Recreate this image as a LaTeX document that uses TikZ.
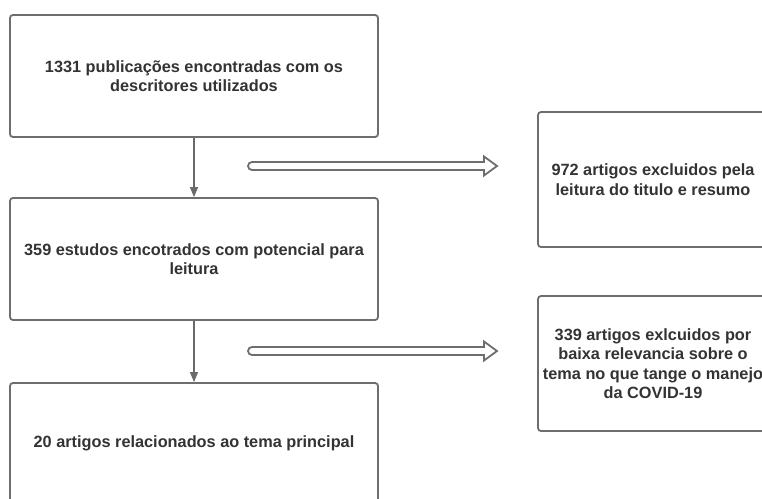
\documentclass[tikz,border=0pt]{standalone}
\usepackage{fontspec}
\setmainfont{Liberation Sans}
\usetikzlibrary{arrows.meta,positioning}
\definecolor{boxline}{HTML}{6E6E6E}
\definecolor{txt}{HTML}{333333}
\definecolor{arr}{HTML}{6A6A6A}
\begin{document}
\begin{tikzpicture}[x=1pt,y=-1pt,
  stepbox/.style={draw=boxline, line width=1.8pt, rounded corners=3pt, fill=white,
    minimum width=368pt, minimum height=122pt, align=center, text=txt,
    font=\fontsize{16.3pt}{19.5pt}\selectfont\bfseries, inner sep=0pt},
  sidebox/.style={stepbox, minimum width=230pt, minimum height=135pt},
  flow/.style={draw=arr, line width=1.2pt, -{Triangle[width=8pt,length=10pt]}},
  hollow/.style={draw=boxline, line width=1.8pt, line join=miter, fill=white}
]
\useasboundingbox (0,0) rectangle (762,498);
\clip (0,0) rectangle (762,498);
\fill[white] (0,0) rectangle (762,498);

\node[stepbox] (b1) at (194,76) {1331 publicações encontradas com os\\descritores utilizados};
\node[stepbox] (b2) at (194,259) {359 estudos encotrados com potencial para\\leitura};
\node[stepbox, minimum height=120pt] (b3) at (194,443) {20 artigos relacionados ao tema principal};

\node[sidebox] (e1) at (653,179.5) {972 artigos excluidos pela\\leitura do titulo e resumo};
\node[sidebox] (e2) at (653,363.5) {339 artigos exlcuidos por\\baixa relevancia sobre o\\tema no que tange o manejo\\da COVID-19};

\draw[flow] (b1.south) -- (b2.north);
\draw[flow] (b2.south) -- (b3.north);

\coordinate (h1) at (248,166);
\coordinate (h2) at (248,351);
\foreach \c in {h1,h2}{
  \begin{scope}[shift={(\c)}]
    \draw[hollow] (4,4) -- (236,4) -- (236,9.5) -- (249,0) -- (236,-9.5) -- (236,-4) -- (4,-4)
      arc[start angle=90, end angle=270, radius=4pt] -- cycle;
  \end{scope}
}
\end{tikzpicture}
\end{document}
